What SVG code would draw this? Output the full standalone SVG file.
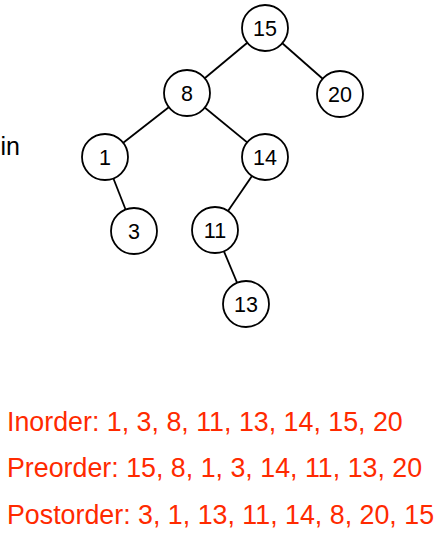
<svg xmlns="http://www.w3.org/2000/svg" width="443" height="539" viewBox="0 0 443 539">
<style>
.n circle{fill:#fff;stroke:#000;stroke-width:1.8}
.n text{font-family:"Liberation Sans",Arial,sans-serif;font-size:21.5px;fill:#000;text-anchor:middle}
.e line{stroke:#000;stroke-width:1.8}
.t{font-family:"Liberation Sans",Arial,sans-serif;font-size:26.8px;fill:#ff2a00}
</style>
<rect width="443" height="539" fill="#fff"/>
<text x="0.5" y="154.5" style="font-family:'Liberation Sans',Arial,sans-serif;font-size:25px;fill:#000">in</text>
<g id="edges" class="e">
<line x1="265" y1="28" x2="187" y2="93"/>
<line x1="265" y1="28" x2="340" y2="94"/>
<line x1="187" y1="93" x2="105" y2="157"/>
<line x1="187" y1="93" x2="265" y2="157"/>
<line x1="105" y1="157" x2="134" y2="231"/>
<line x1="265" y1="157" x2="215" y2="230"/>
<line x1="215" y1="230" x2="246" y2="304"/>
</g>
<g id="n15" class="n"><circle cx="265" cy="28" r="23"/><text x="265" y="36">15</text></g>
<g id="n8" class="n"><circle cx="187" cy="93" r="23"/><text x="187" y="101">8</text></g>
<g id="n20" class="n"><circle cx="340" cy="94" r="23"/><text x="340" y="102">20</text></g>
<g id="n1" class="n"><circle cx="105" cy="157" r="23"/><text x="105" y="165">1</text></g>
<g id="n14" class="n"><circle cx="265" cy="157" r="23"/><text x="265" y="165">14</text></g>
<g id="n3" class="n"><circle cx="134" cy="231" r="23"/><text x="134" y="239">3</text></g>
<g id="n11" class="n"><circle cx="215" cy="230" r="23"/><text x="215" y="238">11</text></g>
<g id="n13" class="n"><circle cx="246" cy="304" r="23"/><text x="246" y="312">13</text></g>
<text class="t" x="7" y="430.5">Inorder: 1, 3, 8, 11, 13, 14, 15, 20</text>
<text class="t" x="7" y="477">Preorder: 15, 8, 1, 3, 14, 11, 13, 20</text>
<text class="t" x="7" y="523.5">Postorder: 3, 1, 13, 11, 14, 8, 20, 15</text>
</svg>
